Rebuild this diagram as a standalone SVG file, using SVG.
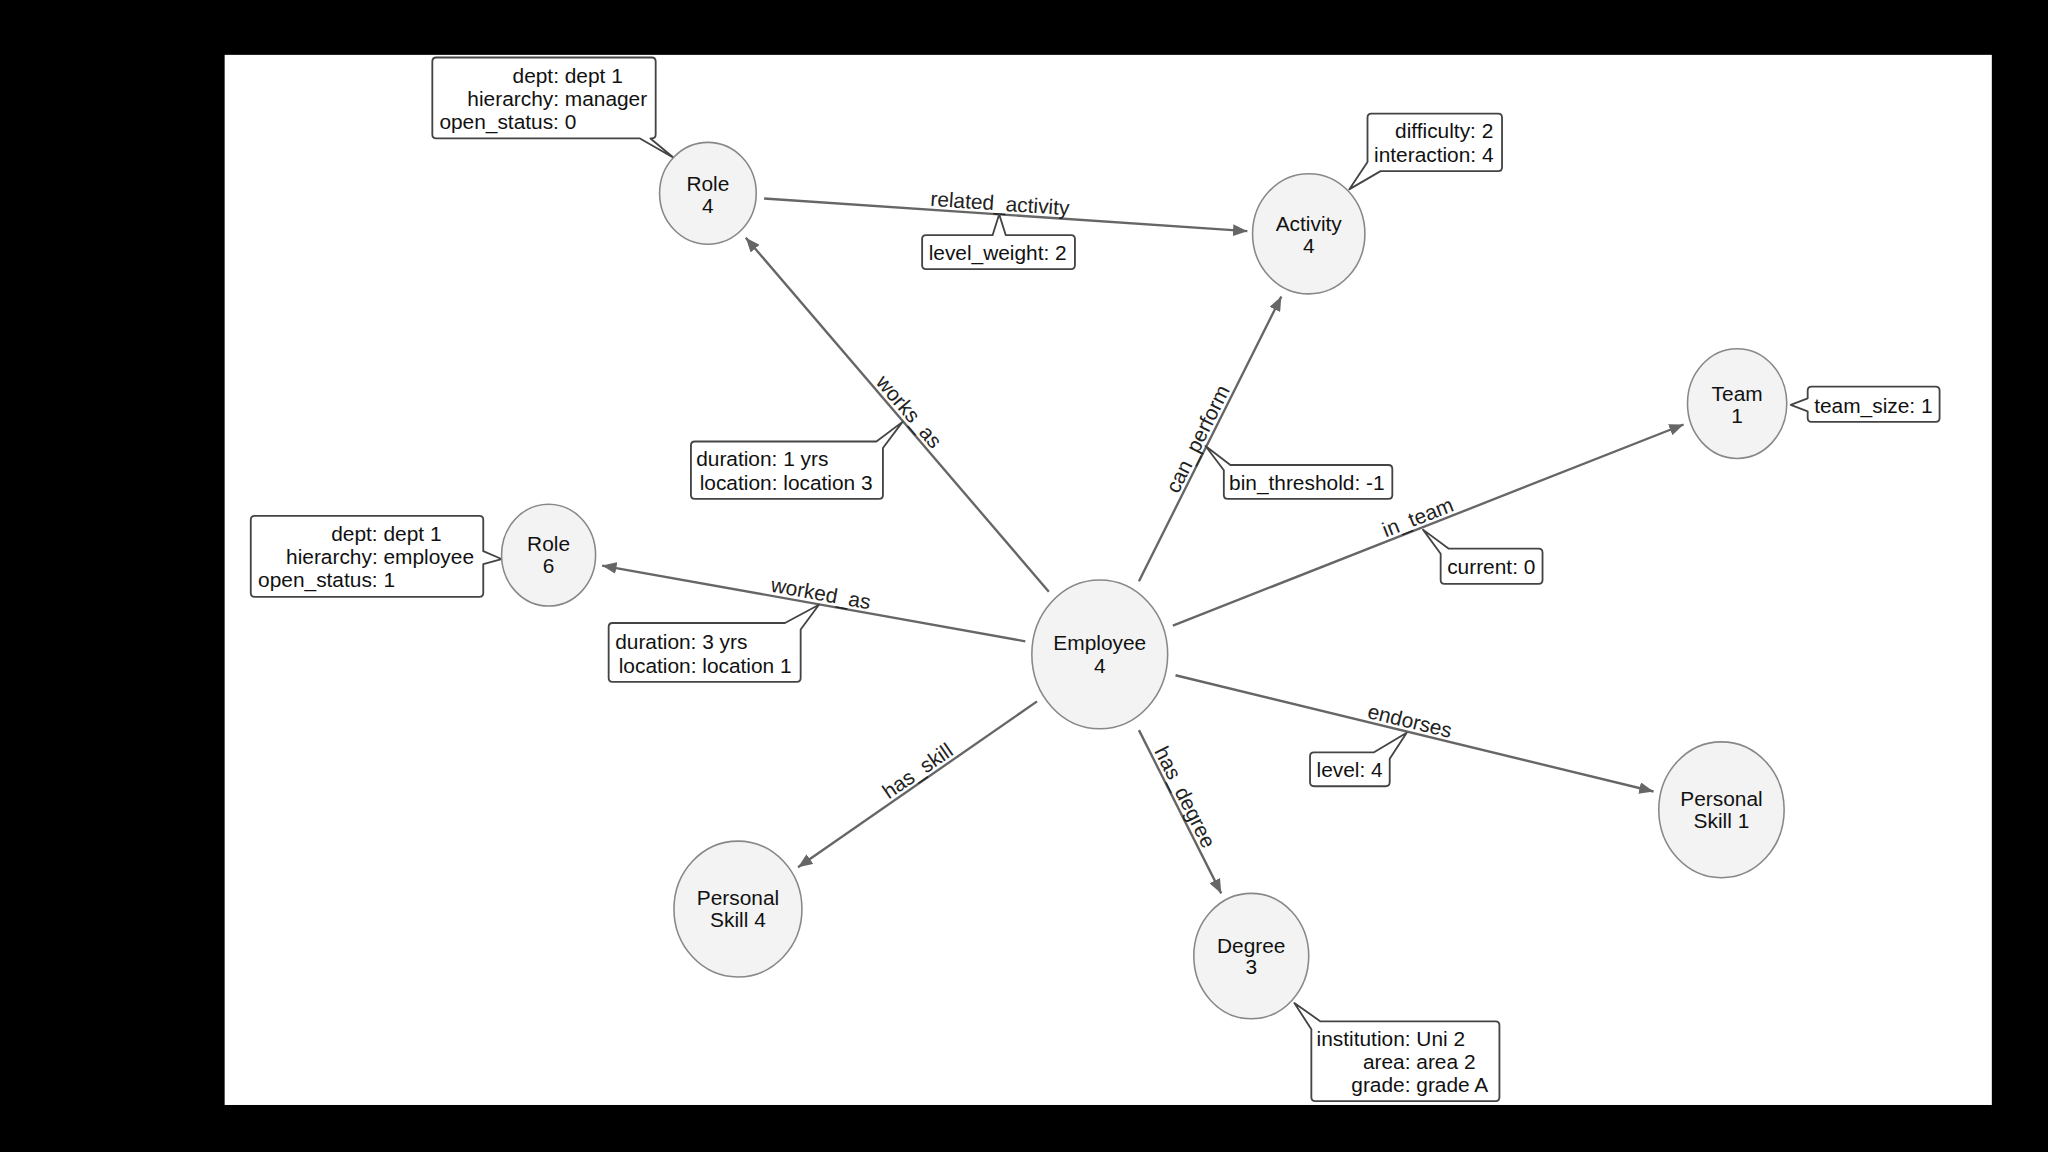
<svg xmlns="http://www.w3.org/2000/svg" width="2048" height="1152" viewBox="0 0 2048 1152">
<defs>
<style>
.node ellipse{fill:#f3f3f3;stroke:#888;stroke-width:1.2}
.nl{font-family:"Liberation Sans",Arial,sans-serif;font-size:16px;fill:#111;text-anchor:middle}
.el{font-family:"Liberation Sans",Arial,sans-serif;font-size:16px;fill:#222;text-anchor:middle}
.ct{font-family:"Liberation Sans",Arial,sans-serif;font-size:16px;fill:#111}
.co{fill:#fff;stroke:#444;stroke-width:1.4;stroke-linejoin:round}
.edge{stroke:#666;stroke-width:1.8;fill:none;marker-end:url(#arr)}
</style>
<marker id="arr" markerUnits="userSpaceOnUse" markerWidth="11" markerHeight="9" refX="11" refY="4.5" orient="auto">
<path d="M0,0 L11,4.5 L0,9 z" fill="#666"/>
</marker>
</defs>
<rect x="0" y="0" width="2048" height="1152" fill="#000"/>
<g transform="scale(1.30612)">
<rect x="172" y="42" width="1353" height="804" fill="#fff"/>

<g id="connectors">
<line class="edge" x1="585" y1="152" x2="955" y2="177"/>
<line class="edge" x1="803" y1="453" x2="571" y2="182"/>
<line class="edge" x1="872" y1="445" x2="981" y2="227"/>
<line class="edge" x1="898" y1="479" x2="1289" y2="325"/>
<line class="edge" x1="785" y1="491" x2="461" y2="433"/>
<line class="edge" x1="900" y1="517" x2="1266" y2="606"/>
<line class="edge" x1="872" y1="559" x2="935" y2="684"/>
<line class="edge" x1="794" y1="537" x2="611" y2="664"/>

<text class="el" x="765" y="161.2" transform="rotate(3.87 765 164.2)">related_activity</text>
<text class="el" x="689.6" y="317.6" transform="rotate(49.43 689.6 320.6)">works_as</text>
<text class="el" x="924.6" y="336.9" transform="rotate(-63.43 924.6 339.9)">can_perform</text>
<text class="el" x="1088.6" y="400.9" transform="rotate(-21.5 1088.6 403.9)">in_team</text>
<text class="el" x="627" y="459.7" transform="rotate(10.15 627 462.7)">worked_as</text>
<text class="el" x="1077.5" y="557.2" transform="rotate(13.67 1077.5 560.2)">endorses</text>
<text class="el" x="899.8" y="611.1" transform="rotate(63.25 899.8 614.1)">has_degree</text>
<text class="el" x="707.3" y="594.2" transform="rotate(-34.76 707.3 597.2)">has_skill</text>

<g id="prop-related_activity">
<path class="co" d="M709,180 L760,180 L765,164 L770,180 L820,180 Q823,180 823,183 L823,203 Q823,206 820,206 L709,206 Q706,206 706,203 L706,183 Q706,180 709,180 Z"/>
<text class="ct" x="711" y="199">level_weight: 2</text>
</g>
<g id="prop-works_as">
<path class="co" d="M532,338 L671,338 L691,323 L676,343 L676,379 Q676,382 673,382 L532,382 Q529,382 529,379 L529,341 Q529,338 532,338 Z"/>
<text class="ct" x="533" y="357">duration: 1 yrs</text>
<text class="ct" x="535.7" y="375">location: location 3</text>
</g>
<g id="prop-can_perform">
<path class="co" d="M923,341.5 L942,356 L1063,356 Q1066,356 1066,359 L1066,379 Q1066,382 1063,382 L940,382 Q937,382 937,379 L937,360 Z"/>
<text class="ct" x="941" y="375">bin_threshold: -1</text>
</g>
<g id="prop-in_team">
<path class="co" d="M1089.5,405.5 L1109,420 L1178,420 Q1181,420 1181,423 L1181,444 Q1181,447 1178,447 L1106,447 Q1103,447 1103,444 L1103,424 Z"/>
<text class="ct" x="1108" y="439.5">current: 0</text>
</g>
<g id="prop-worked_as">
<path class="co" d="M469,477 L601,477 L627,463 L613,482 L613,519 Q613,522 610,522 L469,522 Q466,522 466,519 L466,480 Q466,477 469,477 Z"/>
<text class="ct" x="471" y="497">duration: 3 yrs</text>
<text class="ct" x="473.7" y="515">location: location 1</text>
</g>
<g id="prop-endorses">
<path class="co" d="M1006,576 L1052,576 L1077,561 L1064,581 L1064,599 Q1064,602 1061,602 L1006,602 Q1003,602 1003,599 L1003,579 Q1003,576 1006,576 Z"/>
<text class="ct" x="1008" y="595">level: 4</text>
</g>
</g>

<g id="node-role4" class="node">
<path class="co" d="M334,44 L499,44 Q502,44 502,47 L502,103 Q502,106 499,106 L498,106 L516,121 L490,106 L334,106 Q331,106 331,103 L331,47 Q331,44 334,44 Z"/>
<text class="ct" x="392.4" y="63.5">dept: dept 1</text>
<text class="ct" x="357.8" y="81">hierarchy: manager</text>
<text class="ct" x="336.4" y="98.5">open_status: 0</text>
<ellipse cx="542" cy="148" rx="37" ry="39"/>
<text class="nl" x="542" y="146">Role</text>
<text class="nl" x="542" y="163">4</text>
</g>

<g id="node-activity4" class="node">
<path class="co" d="M1050,87 L1147,87 Q1150,87 1150,90 L1150,128 Q1150,131 1147,131 L1057,131 L1033,145 L1047,124 L1047,90 Q1047,87 1050,87 Z"/>
<text class="ct" x="1068.1" y="106">difficulty: 2</text>
<text class="ct" x="1052" y="124">interaction: 4</text>
<ellipse cx="1002" cy="179" rx="43" ry="46"/>
<text class="nl" x="1002" y="177">Activity</text>
<text class="nl" x="1002" y="194">4</text>
</g>

<g id="node-team1" class="node">
<path class="co" d="M1387,296 L1482,296 Q1485,296 1485,299 L1485,320 Q1485,323 1482,323 L1387,323 Q1384,323 1384,320 L1384,315 L1371,310 L1384,305 L1384,299 Q1384,296 1387,296 Z"/>
<text class="ct" x="1389" y="316">team_size: 1</text>
<ellipse cx="1330" cy="309" rx="38" ry="42"/>
<text class="nl" x="1330" y="307">Team</text>
<text class="nl" x="1330" y="324">1</text>
</g>

<g id="node-role6" class="node">
<path class="co" d="M195,395 L367,395 Q370,395 370,398 L370,422 L384,428 L370,432 L370,454 Q370,457 367,457 L195,457 Q192,457 192,454 L192,398 Q192,395 195,395 Z"/>
<text class="ct" x="253.6" y="414">dept: dept 1</text>
<text class="ct" x="219" y="432">hierarchy: employee</text>
<text class="ct" x="197.6" y="449.5">open_status: 1</text>
<ellipse cx="420" cy="425" rx="36" ry="39"/>
<text class="nl" x="420" y="422">Role</text>
<text class="nl" x="420" y="439">6</text>
</g>

<g id="node-employee4" class="node">
<ellipse cx="842" cy="501" rx="52" ry="57"/>
<text class="nl" x="842" y="498">Employee</text>
<text class="nl" x="842" y="515">4</text>
</g>

<g id="node-personalskill1" class="node">
<ellipse cx="1318" cy="620" rx="48" ry="52"/>
<text class="nl" x="1318" y="617">Personal</text>
<text class="nl" x="1318" y="634">Skill 1</text>
</g>

<g id="node-personalskill4" class="node">
<ellipse cx="565" cy="696" rx="49" ry="52"/>
<text class="nl" x="565" y="693">Personal</text>
<text class="nl" x="565" y="710">Skill 4</text>
</g>

<g id="node-degree3" class="node">
<path class="co" d="M991,768 L1011,782 L1145,782 Q1148,782 1148,785 L1148,840 Q1148,843 1145,843 L1007,843 Q1004,843 1004,840 L1004,788 Z"/>
<text class="ct" x="1008" y="801">institution: Uni 2</text>
<text class="ct" x="1043.5" y="818.5">area: area 2</text>
<text class="ct" x="1034.6" y="836">grade: grade A</text>
<ellipse cx="958" cy="732" rx="44" ry="48"/>
<text class="nl" x="958" y="730">Degree</text>
<text class="nl" x="958" y="746">3</text>
</g>
</g>
</svg>
